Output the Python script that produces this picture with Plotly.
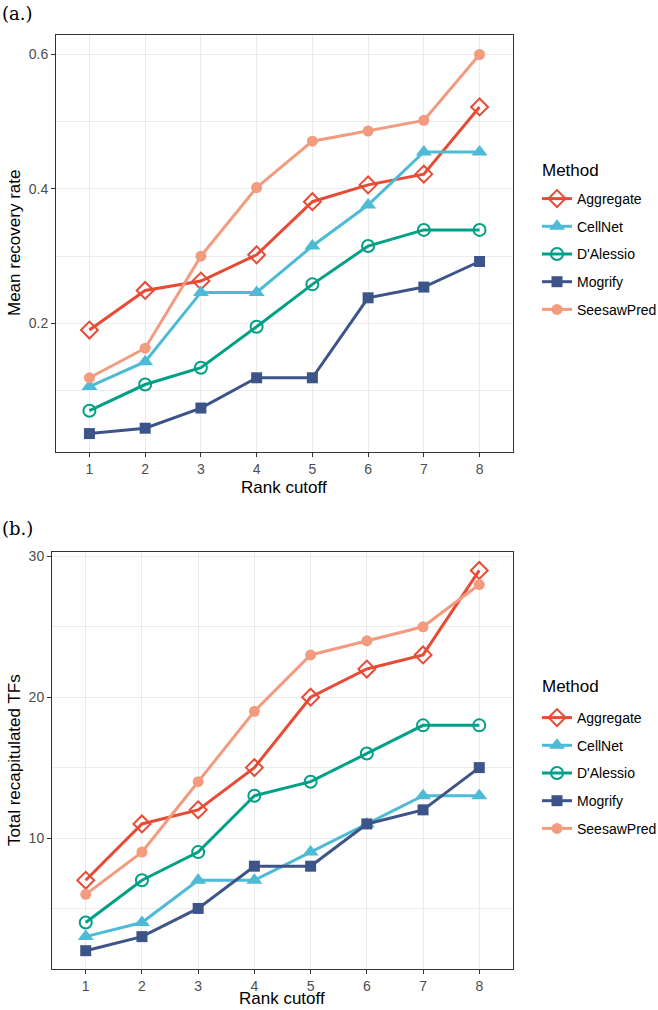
import plotly.graph_objects as go

rank_cutoff = [1, 2, 3, 4, 5, 6, 7, 8]
methods = ["Aggregate", "CellNet", "D'Alessio", "Mogrify", "SeesawPred"]

# Panel (a.) mean recovery rate
recovery_aggregate = [0.190, 0.249, 0.263, 0.302, 0.381, 0.406, 0.422, 0.522]
recovery_cellnet = [0.106, 0.143, 0.246, 0.246, 0.315, 0.376, 0.455, 0.455]
recovery_dalessio = [0.070, 0.109, 0.134, 0.195, 0.258, 0.315, 0.339, 0.339]
recovery_mogrify = [0.036, 0.044, 0.074, 0.119, 0.119, 0.238, 0.254, 0.292]
recovery_seesawpred = [0.119, 0.163, 0.300, 0.402, 0.471, 0.486, 0.502, 0.600]

# Panel (b.) total recapitulated TFs
total_aggregate = [7, 11, 12, 15, 20, 22, 23, 29]
total_cellnet = [3, 4, 7, 7, 9, 11, 13, 13]
total_dalessio = [4, 7, 9, 13, 14, 16, 18, 18]
total_mogrify = [2, 3, 5, 8, 8, 11, 12, 15]
total_seesawpred = [6, 9, 14, 19, 23, 24, 25, 28]

colors = {"Aggregate": "#E64B35", "CellNet": "#4DBBD5", "D'Alessio": "#00A087",
          "Mogrify": "#3C5488", "SeesawPred": "#F39B7F"}
symbols = {"Aggregate": "diamond-open", "CellNet": "triangle-up", "D'Alessio": "circle-open",
           "Mogrify": "square", "SeesawPred": "circle"}
sizes = {"Aggregate": 13, "CellNet": 14, "D'Alessio": 12, "Mogrify": 11, "SeesawPred": 11}

top_vals = [recovery_aggregate, recovery_cellnet, recovery_dalessio, recovery_mogrify, recovery_seesawpred]
bot_vals = [total_aggregate, total_cellnet, total_dalessio, total_mogrify, total_seesawpred]

FONT = "Liberation Sans, Arial, sans-serif"
SERIF = "DejaVu Serif, Liberation Serif, serif"
fig = go.Figure()

for m, v in zip(methods, top_vals):
    fig.add_trace(go.Scatter(
        x=rank_cutoff, y=v, mode="lines+markers", name=m,
        line=dict(color=colors[m], width=3),
        marker=dict(symbol=symbols[m], size=sizes[m], color=colors[m],
                    line=dict(color=colors[m], width=2 if "open" in symbols[m] else 0)),
        xaxis="x", yaxis="y", legend="legend", legendgroup="a" + m))

for m, v in zip(methods, bot_vals):
    fig.add_trace(go.Scatter(
        x=rank_cutoff, y=v, mode="lines+markers", name=m,
        line=dict(color=colors[m], width=3),
        marker=dict(symbol=symbols[m], size=sizes[m], color=colors[m],
                    line=dict(color=colors[m], width=2 if "open" in symbols[m] else 0)),
        xaxis="x2", yaxis="y2", legend="legend2", legendgroup="b" + m))

W, H = 658, 1010

def px_x(p):
    return p / W

def px_y(p):
    return 1 - p / H

axis_common = dict(
    showline=True, linecolor="#333333", linewidth=1, mirror=True,
    ticks="outside", ticklen=4, tickcolor="#333333", tickwidth=1,
    gridcolor="#EBEBEB", gridwidth=1.1, zeroline=False,
    tickfont=dict(family=FONT, size=14, color="#4D4D4D"),
)

legend_common = dict(xanchor="left", yanchor="top",
                     font=dict(family=FONT, size=14, color="black"),
                     tracegroupgap=6.5, bgcolor="rgba(0,0,0,0)")

fig.update_layout(
    width=W, height=H, margin=dict(l=0, r=0, t=0, b=0, autoexpand=False),
    paper_bgcolor="white", plot_bgcolor="white",
    font=dict(family=FONT),
    xaxis=dict(domain=[px_x(56), px_x(513)], range=[0.4, 8.6], tickvals=rank_cutoff,
               anchor="y", **axis_common),
    yaxis=dict(domain=[px_y(452), px_y(35)], range=[0.0086, 0.629],
               tickvals=[0.2, 0.4, 0.6], ticktext=["0.2", "0.4", "0.6"], anchor="x",
               minor=dict(tickvals=[0.1, 0.3, 0.5], showgrid=True, gridcolor="#EBEBEB",
                          gridwidth=0.6, ticklen=0),
               **axis_common),
    xaxis2=dict(domain=[px_x(52), px_x(513)], range=[0.4, 8.6], tickvals=rank_cutoff,
                anchor="y2", **axis_common),
    yaxis2=dict(domain=[px_y(969), px_y(552)], range=[0.70, 30.31],
                tickvals=[10, 20, 30], anchor="x2",
                minor=dict(tickvals=[5, 15, 25], showgrid=True, gridcolor="#EBEBEB",
                           gridwidth=0.6, ticklen=0),
                **axis_common),
    legend=dict(x=px_x(537), y=px_y(183), **legend_common),
    legend2=dict(x=px_x(537), y=px_y(702), **legend_common),
)

annots = [
    dict(text="(a.)", x=px_x(0), y=px_y(13), xanchor="left", yanchor="middle",
         font=dict(family=SERIF, size=18, color="black")),
    dict(text="(b.)", x=px_x(0), y=px_y(528), xanchor="left", yanchor="middle",
         font=dict(family=SERIF, size=18, color="black")),
    dict(text="Mean recovery rate", x=px_x(14), y=px_y(243), xanchor="center", yanchor="middle",
         textangle=-90, font=dict(family=FONT, size=17, color="black")),
    dict(text="Rank cutoff", x=px_x(284), y=px_y(487), xanchor="center", yanchor="middle",
         font=dict(family=FONT, size=17, color="black")),
    dict(text="Total recapitulated TFs", x=px_x(14), y=px_y(760), xanchor="center", yanchor="middle",
         textangle=-90, font=dict(family=FONT, size=17, color="black")),
    dict(text="Rank cutoff", x=px_x(282), y=0, xanchor="center", yanchor="bottom",
         font=dict(family=FONT, size=17, color="black")),
    dict(text="Method", x=px_x(540), y=px_y(170), xanchor="left", yanchor="middle",
         font=dict(family=FONT, size=17, color="black")),
    dict(text="Method", x=px_x(540), y=px_y(686), xanchor="left", yanchor="middle",
         font=dict(family=FONT, size=17, color="black")),
]
for a in annots:
    a.update(xref="paper", yref="paper", showarrow=False)
fig.update_layout(annotations=annots)

fig.write_html("out.html", config={"displayModeBar": False},
               post_script="document.body.style.margin='0px';document.body.style.overflow='hidden';")
